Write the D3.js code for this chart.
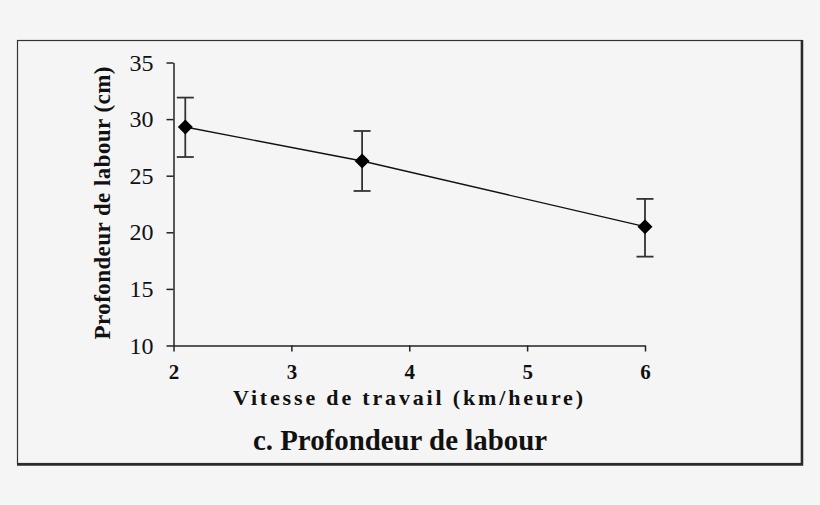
<!DOCTYPE html>
<html>
<head>
    <script src="https://cdnjs.cloudflare.com/ajax/libs/d3/7.8.5/d3.min.js"></script>
    <style>
        body { margin: 0; background-color: #f5f5f5; }
        svg { display: block; }
    </style>
</head>
<body>
    <div id="chart"></div>
    <script>
        // Data
        const speeds = [2.1, 3.6, 6];
        const depths = [29.3, 26.3, 20.5];
        const errLow = [26.65, 23.65, 17.85];
        const errHigh = [31.9, 28.95, 22.95];
        const xTicks = [2, 3, 4, 5, 6];
        const yTicks = [10, 15, 20, 25, 30, 35];

        const width = 820, height = 505;
        const svg = d3.select("#chart").append("svg")
            .attr("width", width).attr("height", height);

        svg.append("rect").attr("width", width).attr("height", height).attr("fill", "#f5f5f5");

        // Frame with darker right / bottom edge
        svg.append("rect")
            .attr("x", 17.5).attr("y", 40.5).attr("width", 784).attr("height", 423)
            .attr("fill", "#f5f5f5").attr("stroke", "#333").attr("stroke-width", 1.2);
        svg.append("path")
            .attr("d", "M802,40 V464.5 H17")
            .attr("fill", "none").attr("stroke", "#2a2a2a").attr("stroke-width", 2.5);

        const x = d3.scaleLinear().domain([2, 6]).range([173.5, 645]);
        const y = d3.scaleLinear().domain([10, 35]).range([345.5, 62.5]);

        // Axes
        const xAxis = svg.append("g")
            .attr("transform", `translate(0,${y(10)})`)
            .call(d3.axisBottom(x).tickValues(xTicks).tickFormat(d3.format("d"))
                .tickSize(6).tickPadding(13).tickSizeOuter(0));
        xAxis.select(".domain").attr("stroke", "#222").attr("stroke-width", 1.5);
        xAxis.selectAll(".tick line").attr("stroke", "#222").attr("stroke-width", 1.5);
        xAxis.selectAll(".tick text")
            .attr("font-family", "Liberation Serif, serif").attr("font-size", 21)
            .attr("font-weight", "bold").attr("fill", "#111");

        const yAxis = svg.append("g")
            .attr("transform", `translate(${x(2)},0)`)
            .call(d3.axisLeft(y).tickValues(yTicks).tickFormat(d3.format("d"))
                .tickSize(7).tickPadding(13).tickSizeOuter(0));
        yAxis.select(".domain").attr("stroke", "#222").attr("stroke-width", 1.5);
        yAxis.selectAll(".tick line").attr("stroke", "#222").attr("stroke-width", 1.5);
        yAxis.selectAll(".tick text")
            .attr("font-family", "Liberation Serif, serif").attr("font-size", 24)
            .attr("fill", "#111");

        // Line
        const pts = speeds.map((s, i) => ({ s, d: depths[i], lo: errLow[i], hi: errHigh[i] }));
        svg.append("path")
            .datum(pts)
            .attr("fill", "none").attr("stroke", "#111").attr("stroke-width", 1.4)
            .attr("d", d3.line().x(d => x(d.s)).y(d => y(d.d)));

        // Error bars
        const eb = svg.append("g").attr("stroke", "#333").attr("stroke-width", 1.8);
        eb.selectAll(".v").data(pts).join("line")
            .attr("x1", d => x(d.s)).attr("x2", d => x(d.s))
            .attr("y1", d => y(d.lo)).attr("y2", d => y(d.hi));
        eb.selectAll(".t").data(pts).join("line")
            .attr("x1", d => x(d.s) - 8.5).attr("x2", d => x(d.s) + 8.5)
            .attr("y1", d => y(d.hi)).attr("y2", d => y(d.hi));
        eb.selectAll(".b").data(pts).join("line")
            .attr("x1", d => x(d.s) - 8.5).attr("x2", d => x(d.s) + 8.5)
            .attr("y1", d => y(d.lo)).attr("y2", d => y(d.lo));

        // Diamond markers
        svg.selectAll(".marker").data(pts).join("path")
            .attr("transform", d => `translate(${x(d.s)},${y(d.d)})`)
            .attr("d", "M0,-7.5 L7.5,0 L0,7.5 L-7.5,0 Z")
            .attr("fill", "#000");

        // Axis titles
        svg.append("text")
            .attr("x", 408).attr("y", 405)
            .attr("text-anchor", "middle")
            .attr("font-family", "Liberation Serif, serif").attr("font-size", 22)
            .attr("font-weight", "bold").attr("fill", "#111")
            .attr("textLength", 350).attr("lengthAdjust", "spacing")
            .text("Vitesse de travail (km/heure)");

        svg.append("text")
            .attr("transform", "translate(110,203) rotate(-90)")
            .attr("text-anchor", "middle")
            .attr("font-family", "Liberation Serif, serif").attr("font-size", 23)
            .attr("font-weight", "bold").attr("fill", "#111")
            .attr("textLength", 273).attr("lengthAdjust", "spacing")
            .text("Profondeur de labour (cm)");

        // Caption
        svg.append("text")
            .attr("x", 400).attr("y", 450)
            .attr("text-anchor", "middle")
            .attr("font-family", "Liberation Serif, serif").attr("font-size", 29)
            .attr("font-weight", "bold").attr("fill", "#111")
            .attr("textLength", 294).attr("lengthAdjust", "spacingAndGlyphs")
            .text("c. Profondeur de labour");
    </script>
</body>
</html>
